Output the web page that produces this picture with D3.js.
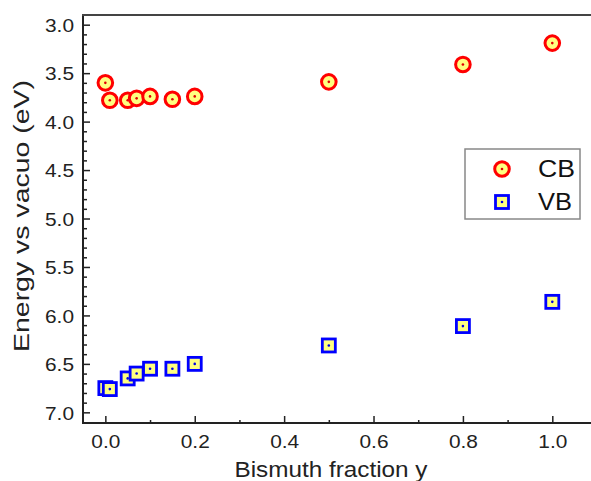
<!DOCTYPE html>
<html>
<head>
<meta charset="utf-8">
<script src="https://cdn.jsdelivr.net/npm/d3@7"></script>
<style>
  body { margin: 0; background: #fff; }
  text { font-family: "Liberation Sans", Arial, sans-serif; }
</style>
</head>
<body>
<script>
// data
var fraction = [0, 0.01, 0.05, 0.07, 0.1, 0.15, 0.2, 0.5, 0.8, 1.0];
var cbEnergy = [3.60, 3.78, 3.78, 3.76, 3.74, 3.77, 3.74, 3.59, 3.41, 3.19];
var vbEnergy = [6.75, 6.76, 6.65, 6.60, 6.55, 6.55, 6.50, 6.31, 6.11, 5.86];
var xTicks = [0, 0.2, 0.4, 0.6, 0.8, 1.0];
var yTicks = [3.0, 3.5, 4.0, 4.5, 5.0, 5.5, 6.0, 6.5, 7.0];
var seriesNames = ["CB", "VB"];

var W = 591, H = 481;
var svg = d3.select("body").append("svg")
    .attr("width", W)
    .attr("height", H);

var plotLeft = 83, plotTop = 15, plotBottom = 423, plotRight = 597;

var x = d3.scaleLinear().domain([-0.05, 1.1]).range([plotLeft, plotRight]);
var y = d3.scaleLinear().domain([2.9, 7.11]).range([plotTop, plotBottom]);

var axisColor = "#222";

// minor ticks
var xMinor = d3.range(0, 1.01, 0.1).filter(function(d){ return Math.round(d * 10) % 2 == 1; });
var yMinor = d3.range(3.0, 7.01, 0.1).filter(function(d){ return Math.round(d * 10) % 5 != 0; });

svg.append("g")
    .attr("transform", "translate(0," + plotBottom + ")")
    .call(d3.axisBottom(x).tickValues(xMinor).tickSize(-3).tickFormat(""));

svg.append("g")
    .attr("transform", "translate(" + plotLeft + ",0)")
    .call(d3.axisLeft(y).tickValues(yMinor).tickSize(-4).tickFormat(""));

var xAxis = svg.append("g")
    .attr("transform", "translate(0," + plotBottom + ")")
    .call(d3.axisBottom(x).tickValues(xTicks).tickSize(-7).tickPadding(12)
        .tickFormat(d3.format(".1f")));

var yAxis = svg.append("g")
    .attr("transform", "translate(" + plotLeft + ",0)")
    .call(d3.axisLeft(y).tickValues(yTicks).tickSize(-7).tickPadding(9)
        .tickFormat(d3.format(".1f")));

svg.selectAll(".tick line").attr("stroke", axisColor).attr("stroke-width", 1.5);
svg.selectAll(".domain").remove();
svg.selectAll(".tick text").attr("font-size", 18.5).attr("fill", "#222")
    .attr("font-family", "Liberation Sans, Arial, sans-serif")
    .attr("textLength", 29).attr("lengthAdjust", "spacingAndGlyphs");
yAxis.selectAll(".tick text").attr("dy", "0.36em");

// frame lines
svg.append("line").attr("x1", plotLeft).attr("x2", plotLeft).attr("y1", plotTop).attr("y2", plotBottom)
    .attr("stroke", axisColor).attr("stroke-width", 2);
svg.append("line").attr("x1", plotLeft - 1).attr("x2", W).attr("y1", plotBottom).attr("y2", plotBottom)
    .attr("stroke", axisColor).attr("stroke-width", 2);
svg.append("line").attr("x1", plotLeft - 1).attr("x2", W).attr("y1", plotTop).attr("y2", plotTop)
    .attr("stroke", "#444").attr("stroke-width", 2);

// axis titles
svg.append("text")
    .attr("x", 331).attr("y", 477)
    .attr("text-anchor", "middle")
    .attr("font-size", 22).attr("fill", "#222")
    .attr("textLength", 193).attr("lengthAdjust", "spacingAndGlyphs")
    .text("Bismuth fraction y");

svg.append("text")
    .attr("transform", "translate(29,216) rotate(-90)")
    .attr("text-anchor", "middle")
    .attr("font-size", 22).attr("fill", "#222")
    .attr("textLength", 272).attr("lengthAdjust", "spacingAndGlyphs")
    .text("Energy vs vacuo (eV)");

var yellow = "#ffff80";

function drawCircle(g, cx, cy) {
    g.append("circle").attr("cx", cx).attr("cy", cy).attr("r", 7.3)
        .attr("fill", yellow).attr("stroke", "#ff0000").attr("stroke-width", 3);
    g.append("circle").attr("cx", cx).attr("cy", cy).attr("r", 1.3).attr("fill", "#e00000");
}
function drawSquare(g, cx, cy) {
    g.append("rect").attr("x", cx - 6.5).attr("y", cy - 6.5).attr("width", 13).attr("height", 13)
        .attr("fill", yellow).attr("stroke", "#0000ff").attr("stroke-width", 2.8);
    g.append("circle").attr("cx", cx).attr("cy", cy).attr("r", 1.3).attr("fill", "#0000e0");
}

var cbG = svg.append("g");
fraction.forEach(function(f, i){ drawCircle(cbG, x(f), y(cbEnergy[i])); });
var vbG = svg.append("g");
fraction.forEach(function(f, i){ drawSquare(vbG, x(f), y(vbEnergy[i])); });

// legend
var legendWidths = [37, 34];
var lg = svg.append("g");
lg.append("rect").attr("x", 465).attr("y", 149).attr("width", 115).attr("height", 70)
    .attr("fill", "#fff").attr("stroke", "#888").attr("stroke-width", 1.5);
drawCircle(lg, 502, 169);
drawSquare(lg, 502, 202);
lg.selectAll("text.leg").data(seriesNames).enter().append("text")
    .attr("class", "leg")
    .attr("x", 538)
    .attr("y", function(d, i){ return 177 + i * 33; })
    .attr("font-size", 23).attr("fill", "#111")
    .attr("textLength", function(d, i){ return legendWidths[i]; })
    .attr("lengthAdjust", "spacingAndGlyphs")
    .text(function(d){ return d; });
</script>
</body>
</html>
